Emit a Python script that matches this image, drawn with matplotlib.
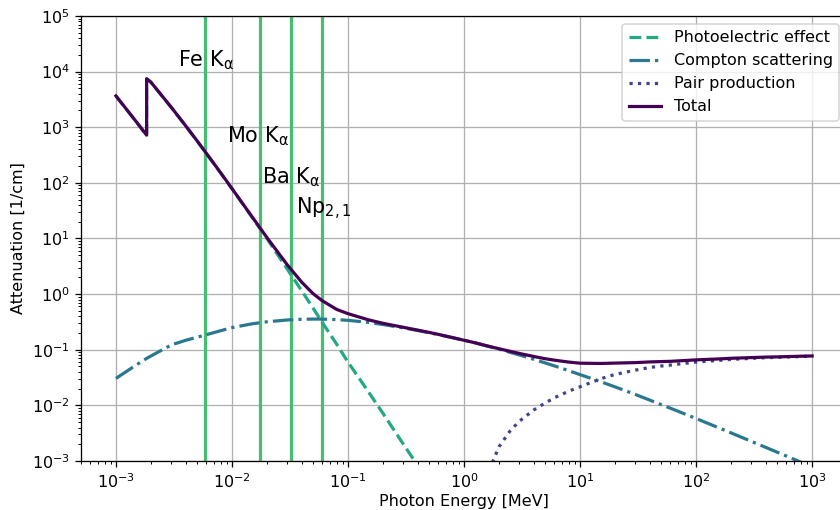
import numpy as np
import matplotlib
matplotlib.use("Agg")
import matplotlib.pyplot as plt

# Photon energies [MeV] (K-edge of Si appears twice)
energy = [1e-3, 1.5e-3, 1.839e-3, 1.839e-3, 2e-3, 3e-3, 4e-3, 5e-3, 6e-3, 8e-3,
          1e-2, 1.5e-2, 2e-2, 3e-2, 4e-2, 5e-2, 6e-2, 8e-2, 0.1, 0.15, 0.2, 0.3,
          0.4, 0.5, 0.6, 0.8, 1.0, 1.25, 1.5, 2.0, 3.0, 4.0, 5.0, 6.0, 8.0, 10.0,
          15.0, 20.0, 30.0, 40.0, 50.0, 60.0, 80.0, 100.0, 150.0, 200.0, 300.0,
          400.0, 500.0, 600.0, 800.0, 1000.0]

# Attenuation [1/cm]
photo_energy = energy[:27]
photoelectric = [3630, 1245, 718, 7420, 6450, 2270, 1050, 568, 340, 150,
                 78.5, 23.6, 10.0, 2.8, 1.14, 0.56, 0.31, 0.125, 0.060, 0.0175,
                 0.0072, 0.0020, 0.00082, 0.00045, 0.00028, 0.00014, 0.000085]

compton = [0.0305, 0.0535, 0.070, 0.070, 0.077, 0.122, 0.148, 0.168, 0.186, 0.22,
           0.25, 0.293, 0.318, 0.343, 0.353, 0.356, 0.355, 0.348, 0.338, 0.31,
           0.284, 0.247, 0.2215, 0.202, 0.187, 0.164, 0.148, 0.133, 0.120, 0.1024,
           0.0805, 0.0672, 0.058, 0.0513, 0.042, 0.0357, 0.0267, 0.0215, 0.0157,
           0.0124, 0.0103, 0.0089, 0.0070, 0.0058, 0.0041, 0.0032, 0.00225,
           0.00175, 0.00144, 0.00123, 0.00095, 0.00078]

pair_energy = [1.25, 1.5, 2.0, 2.5, 3.0, 4.0, 5.0, 6.0, 8.0, 10.0, 15.0, 20.0,
               30.0, 40.0, 50.0, 60.0, 80.0, 100.0, 150.0, 200.0, 300.0, 400.0,
               500.0, 600.0, 800.0, 1000.0]
pair = [7.5e-5, 4.3e-4, 1.8e-3, 3.5e-3, 5.2e-3, 8.3e-3, 0.011, 0.0137, 0.018,
        0.0216, 0.030, 0.036, 0.043, 0.048, 0.051, 0.053, 0.057, 0.060, 0.064,
        0.067, 0.070, 0.072, 0.073, 0.074, 0.0755, 0.0765]

total = [3660, 1250, 720, 7440, 6470, 2280, 1055, 571, 342, 151,
         79.0, 24.1, 10.4, 3.35, 1.63, 1.02, 0.76, 0.53, 0.445, 0.345,
         0.299, 0.253, 0.225, 0.205, 0.189, 0.165, 0.148, 0.133, 0.1205, 0.1042,
         0.0858, 0.0756, 0.069, 0.065, 0.060, 0.0573, 0.0567, 0.0575, 0.0587,
         0.0604, 0.0613, 0.0619, 0.064, 0.0658, 0.0681, 0.0702, 0.0723,
         0.0738, 0.0744, 0.0752, 0.0765, 0.0773]

# Characteristic lines
line_energies = [0.0059, 0.0175, 0.0321, 0.0595]
line_labels = [r"Fe K$_\mathrm{\alpha}$", r"Mo K$_\mathrm{\alpha}$",
               r"Ba K$_\mathrm{\alpha}$", r"Np$_{2,1}$"]
label_pos = [(3.43e-3, 1.22e4), (9.0e-3, 526), (0.0180, 98), (0.0353, 27.1)]

plt.rcParams["font.size"] = 10
cmap = plt.cm.viridis

fig = plt.figure(figsize=(7.305, 4.435), dpi=115)
ax = fig.add_axes([81 / 840, 49 / 510, 766 / 840, 445 / 510])

for e in line_energies:
    ax.axvline(e, color=cmap(0.7), lw=2)

ax.plot(photo_energy, photoelectric, "--", color=cmap(0.6), lw=2,
        label="Photoelectric effect")
ax.plot(energy, compton, "-.", color=cmap(0.4), lw=2, label="Compton scattering")
ax.plot(pair_energy, pair, ":", color=cmap(0.2), lw=2, label="Pair production")
ax.plot(energy, total, "-", color=cmap(0.0), lw=2, label="Total")

for (x, y), txt in zip(label_pos, line_labels):
    ax.text(x, y, txt, fontsize=13, ha="left", va="baseline")

ax.set_xscale("log")
ax.set_yscale("log")
ax.set_xlim(5e-4, 2e3)
ax.set_ylim(1e-3, 1e5)
ax.grid(True)
ax.set_xlabel("Photon Energy [MeV]", labelpad=2)
ax.set_ylabel("Attenuation [1/cm]")
ax.legend(loc="upper right")

fig.savefig("out.png", dpi=115)
